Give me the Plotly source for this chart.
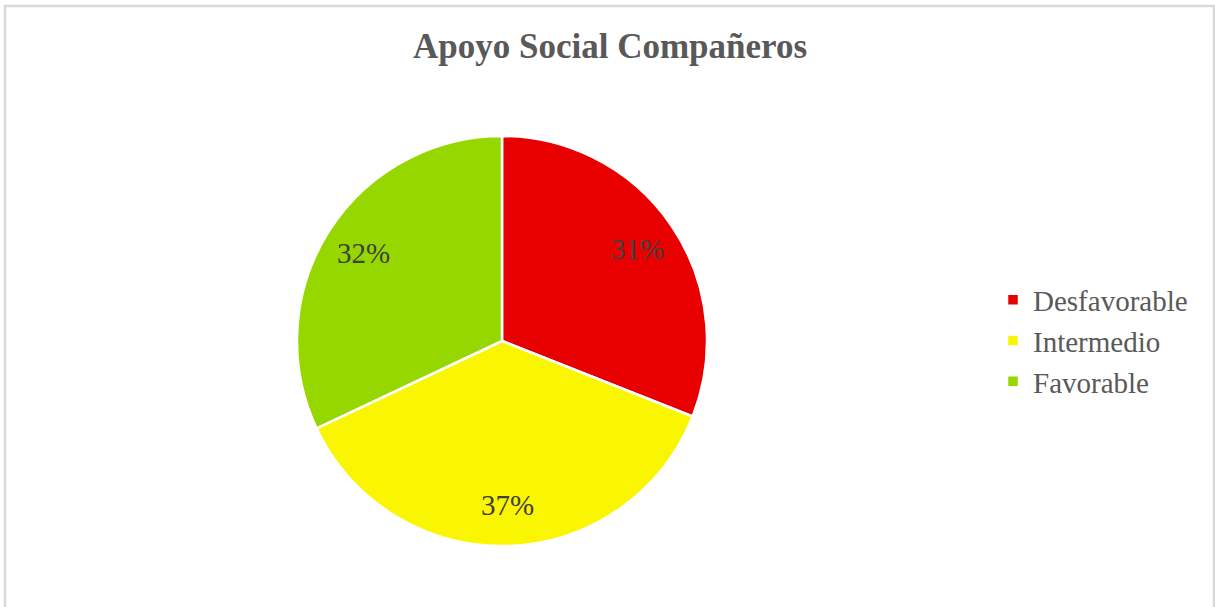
import math
import plotly.graph_objects as go

# Data
categories = ["Desfavorable", "Intermedio", "Favorable"]
percentages = [31, 37, 32]
slice_colors = ["#E80000", "#FAF500", "#97D700"]

W, H = 1215, 607
M_T, M_B = 136, 61
PLOT_H = H - M_T - M_B
CX = 502  # pie centre in px
R = PLOT_H / 2

fig = go.Figure(
    go.Pie(
        labels=categories,
        values=percentages,
        sort=False,
        direction="clockwise",
        rotation=0,
        marker=dict(colors=slice_colors, line=dict(color="white", width=2.5)),
        textinfo="none",
        hoverinfo="label+percent",
        domain=dict(x=[(CX - R) / W, (CX + R) / W], y=[0, 1]),
    )
)

# Percentage labels placed at each slice's mid-angle
total = sum(percentages)
cum = 0
for val in percentages:
    mid = (cum + val / 2) / total * 2 * math.pi
    cum += val
    px = CX + 0.8 * R * math.sin(mid)
    py = M_T + R - 0.8 * R * math.cos(mid)
    fig.add_annotation(
        x=px / W, y=(H - M_B - py) / PLOT_H, xref="paper", yref="paper",
        text=f"{round(val / total * 100)}%", showarrow=False,
        font=dict(family="Liberation Serif", size=29, color="#404040"),
        xanchor="center", yanchor="middle",
    )

# Light frame around the chart area
fig.add_shape(
    type="rect", xref="paper", yref="paper",
    x0=5 / W, x1=1214 / W,
    y0=(H - M_B - 640) / PLOT_H, y1=(H - M_B - 6) / PLOT_H,
    line=dict(color="#D9D9D9", width=2.5), fillcolor="rgba(0,0,0,0)",
    layer="below",
)

fig.update_layout(
    width=W, height=H,
    margin=dict(l=0, r=0, t=M_T, b=M_B),
    paper_bgcolor="white", plot_bgcolor="white",
    title=dict(
        text="<b>Apoyo Social Compañeros</b>",
        x=610 / W, xanchor="center", xref="paper",
        y=1 - 46 / H, yanchor="middle", yref="container",
        font=dict(family="Liberation Serif", size=35, color="#595959"),
    ),
    legend=dict(
        x=(1033 - 40) / W, xanchor="left",
        y=0.5, yanchor="middle",
        font=dict(family="Liberation Serif", size=29, color="#595959"),
        bgcolor="rgba(0,0,0,0)",
    ),
    showlegend=True,
)

fig.write_html("out.html")
